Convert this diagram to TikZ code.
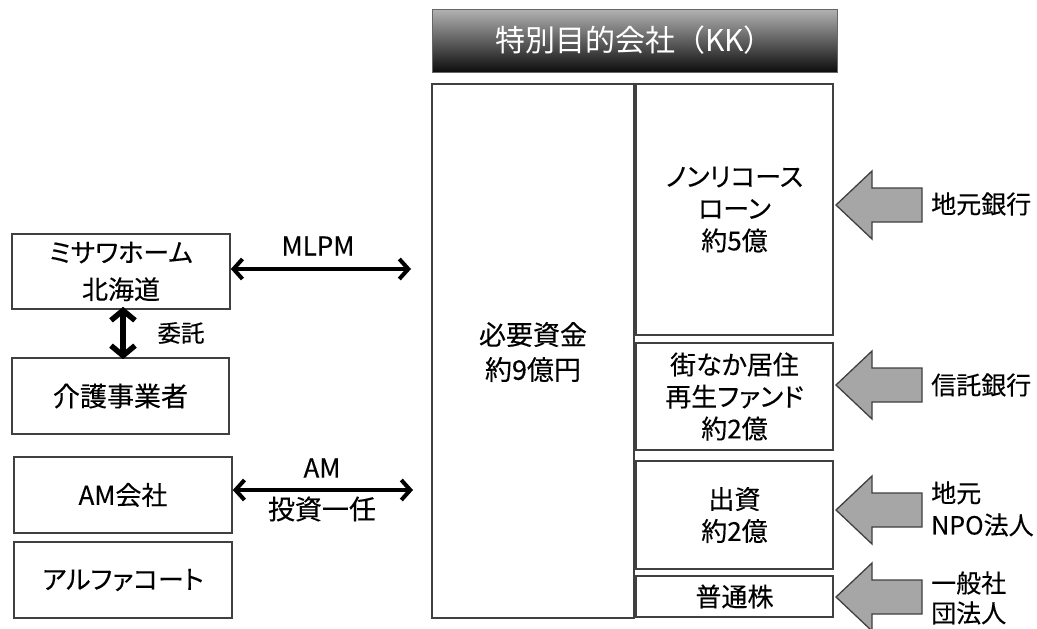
\documentclass[tikz,border=0pt]{standalone}
\usepackage{fontspec}
\setmainfont{Noto Sans CJK JP}[RawFeature=+palt, FakeBold=0.25]
\newfontfamily\titlefont{Noto Sans CJK JP}
\usetikzlibrary{arrows.meta}
\begin{document}
\begin{tikzpicture}[x=1pt,y=-1pt,
  box/.style={draw=black!75, line width=1.6pt, align=center, inner sep=0pt},
  txt/.style={align=center, inner sep=0pt, font=\fontsize{26}{32}\selectfont},
  lbl/.style={align=center, inner sep=0pt, font=\fontsize{25}{32}\selectfont},
  dbl/.style={line width=4pt, {Straight Barb[length=9pt,width=20pt]}-{Straight Barb[length=9pt,width=20pt]}},
  blockarrow/.style={fill=black!35, draw=black!75, line width=1.3pt, line join=miter}
]
\useasboundingbox (0,0) rectangle (1037,629);
\fill[white] (0,0) rectangle (1037,629);

% title bar
\node[minimum width=405, minimum height=63, inner sep=0pt,
  top color=black!30, bottom color=black!95, draw=black!60, line width=0.6pt,
  text=white, font=\titlefont\fontsize{30}{36}\selectfont] (title) at (634.5,40.5) {特別目的会社（KK）};

% central structure
\node[box, minimum width=202, minimum height=534] (fund) at (533,351) {};
\node[txt, font=\fontsize{27}{35}\selectfont] (fundtxt) at (533,352) {必要資金\\約9億円};
\node[box, txt, minimum width=197, minimum height=251] (nonrec) at (734.5,209.5) {ノンリコース\\ローン\\約5億};
\node[box, txt, minimum width=197, minimum height=107] (machi) at (734.5,396.5) {街なか居住\\再生ファンド\\約2億};
\node[box, txt, minimum width=197, minimum height=108] (shusshi) at (734.5,515) {出資\\約2億};
\node[box, txt, minimum width=197, minimum height=41] (futsu) at (734.5,596.5) {普通株};

% left boxes
\node[box, txt, font=\fontsize{26}{37}\selectfont, minimum width=218, minimum height=75] (misawa) at (121,271.5) {ミサワホーム\\北海道};
\node[box, txt, font=\fontsize{27}{32}\selectfont, minimum width=217, minimum height=76] (kaigo) at (120.5,396) {介護事業者};
\node[box, txt, minimum width=218, minimum height=76] (am) at (123,495) {AM会社};
\node[box, txt, minimum width=218, minimum height=76] (alpha) at (123,580) {アルファコート};

% connectors
\coordinate (mlpmend) at (411,269);
\coordinate (amend) at (413,490);
\draw[dbl] (misawa.east |- mlpmend) -- (mlpmend);
\node[lbl, font=\fontsize{26}{32}\selectfont] (mlpm) at (318,246) {MLPM};
\draw[dbl] (am.east |- amend) -- (amend);
\node[lbl, font=\fontsize{26}{32}\selectfont] (amlbl) at (322,468) {AM};
\node[lbl, font=\fontsize{27}{32}\selectfont] (toushi) at (322,509) {投資一任};
\draw[line width=5.5pt, {Straight Barb[length=10pt,width=24pt]}-{Straight Barb[length=10pt,width=24pt]}]
  ([yshift=3pt]misawa.south -| 123,0) -- ([yshift=-2pt]kaigo.north -| 123,0);
\node[lbl, font=\fontsize{23.5}{30}\selectfont] (itaku) at (181,333) {委託};

% block arrows
\foreach \yc/\nm in {205/a1, 385/a2, 510/a3, 597/a4}{
  \draw[blockarrow] (836,\yc) -- (872,\yc-34) -- (872,\yc-17) -- (922,\yc-17)
    -- (922,\yc+17) -- (872,\yc+17) -- (872,\yc+34) -- cycle;
}
\node[lbl, anchor=west] (b1) at (931,204) {地元銀行};
\node[lbl, anchor=west] (b2) at (931,385) {信託銀行};
\node[lbl, anchor=west, align=left] (b3) at (931,509) {地元\\NPO法人};
\node[lbl, anchor=west, font=\fontsize{25}{30}\selectfont] (b4) at (931,598) {一般社\\団法人};
\end{tikzpicture}
\end{document}
